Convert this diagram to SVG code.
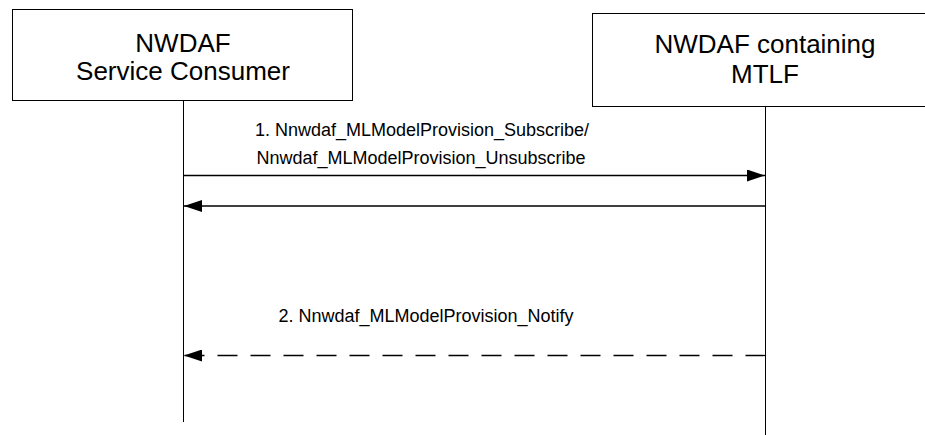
<svg xmlns="http://www.w3.org/2000/svg" width="925" height="435" viewBox="0 0 925 435">
<style>
.box{fill:#fff;stroke:#000;stroke-width:1}
.life{stroke:#000;stroke-width:1;fill:none}
.msg{stroke:#000;stroke-width:1.3;fill:none}
.dash{stroke-dasharray:20 13}
.t{font-family:"Liberation Sans",Arial,sans-serif;fill:#000;text-anchor:middle}
.big{font-size:26px}
.lbl{font-size:18px}
</style>
<defs>
<marker id="ah" markerWidth="18" markerHeight="12" refX="18" refY="6" orient="auto" markerUnits="userSpaceOnUse">
<path d="M0,0 L18,6 L0,12 Z" fill="#000"/>
</marker>
</defs>
<rect width="925" height="435" fill="#fff"/>
<g id="consumer">
<rect class="box" x="12.5" y="9.5" width="340" height="91"/>
<text class="t big" x="183" y="52">NWDAF</text>
<text class="t big" x="183" y="80">Service Consumer</text>
</g>
<g id="mtlf">
<rect class="box" x="592.5" y="13.5" width="345" height="93"/>
<text class="t big" x="765" y="53">NWDAF containing</text>
<text class="t big" x="765" y="83">MTLF</text>
</g>
<g id="connectors">
<line class="life" x1="183.5" y1="100" x2="183.5" y2="422"/>
<line class="life" x1="765.5" y1="106" x2="765.5" y2="435"/>
<line class="msg" x1="183.5" y1="175.5" x2="765" y2="175.5" marker-end="url(#ah)"/>
<line class="msg" x1="765.5" y1="206" x2="184" y2="206" marker-end="url(#ah)"/>
<line class="msg dash" x1="765.5" y1="355.5" x2="184" y2="355.5" marker-end="url(#ah)"/>
<text class="t lbl" x="422" y="136">1. Nnwdaf_MLModelProvision_Subscribe/</text>
<text class="t lbl" x="421" y="164">Nnwdaf_MLModelProvision_Unsubscribe</text>
<text class="t lbl" x="426" y="322">2. Nnwdaf_MLModelProvision_Notify</text>
</g>
</svg>
